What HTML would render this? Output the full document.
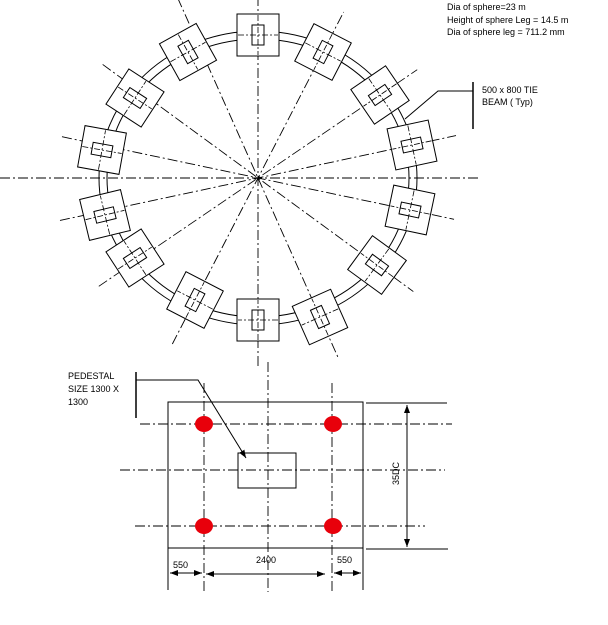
<!DOCTYPE html>
<html><head><meta charset="utf-8"><style>
html,body{margin:0;padding:0;background:#fff;}
svg{display:block;font-family:"Liberation Sans",sans-serif;}
</style></head><body>
<svg id="s" width="608" height="625" viewBox="0 0 608 625" xmlns="http://www.w3.org/2000/svg">
<defs><marker id="a" markerWidth="8" markerHeight="6" refX="8" refY="3" orient="auto" markerUnits="userSpaceOnUse"><path d="M0,0 L8,3 L0,6 z" fill="#000"/></marker></defs>
<g id="radial" stroke="#000" stroke-width="0.9" stroke-dasharray="10,3,2,3" fill="none"></g>
<ellipse cx="258" cy="178" rx="151" ry="139" fill="none" stroke="#000" stroke-width="1"/>
<ellipse cx="258" cy="178" rx="159" ry="147" fill="none" stroke="#000" stroke-width="1"/>
<g id="pads"></g>
<g font-size="9" fill="#000">
<text x="447" y="10">Dia of sphere=23 m</text>
<text x="447" y="23">Height of sphere Leg = 14.5 m</text>
<text x="447" y="35">Dia of sphere leg = 711.2 mm</text>
<text x="482" y="93">500 x 800 TIE</text>
<text x="482" y="105">BEAM ( Typ)</text>
<text x="68" y="379">PEDESTAL</text>
<text x="68" y="392">SIZE 1300 X</text>
<text x="68" y="405">1300</text>
<text x="173" y="568">550</text>
<text x="256" y="563">2400</text>
<text x="337" y="563">550</text>
<text transform="translate(399,485) rotate(-90)">35DC</text>
</g>
<g stroke="#000" fill="none" stroke-width="1">
<line x1="473" y1="82" x2="473" y2="129" stroke-width="1.5"/>
<polyline points="473,91 438,91 405,119"/>
<line x1="136" y1="372" x2="136" y2="418" stroke-width="1.5"/>
<polyline points="136,380 198,380 246,458" marker-end="url(#a)"/>
<rect x="168" y="402" width="195" height="146"/>
<rect x="238" y="453" width="58" height="35"/>
<line x1="366" y1="403" x2="447" y2="403"/>
<line x1="366" y1="549" x2="448" y2="549"/>
<line x1="407" y1="405" x2="407" y2="547" marker-end="url(#a)"/>
<line x1="407" y1="547" x2="407" y2="405" marker-end="url(#a)"/>
<line x1="168" y1="548" x2="168" y2="590"/>
<line x1="363" y1="548" x2="363" y2="590"/>
<line x1="170" y1="573" x2="202" y2="573" marker-end="url(#a)"/>
<line x1="202" y1="573" x2="170" y2="573" marker-end="url(#a)"/>
<line x1="206" y1="574" x2="325" y2="574" marker-end="url(#a)"/>
<line x1="325" y1="574" x2="206" y2="574" marker-end="url(#a)"/>
<line x1="334" y1="573" x2="361" y2="573" marker-end="url(#a)"/>
<line x1="361" y1="573" x2="334" y2="573" marker-end="url(#a)"/>
</g>
<g stroke="#000" stroke-width="0.9" stroke-dasharray="10,3,2,3" fill="none">
<line x1="204" y1="383" x2="204" y2="592"/>
<line x1="268" y1="362" x2="268" y2="592"/>
<line x1="332" y1="383" x2="332" y2="592"/>
<line x1="140" y1="424" x2="452" y2="424"/>
<line x1="120" y1="470" x2="445" y2="470"/>
<line x1="135" y1="526" x2="425" y2="526"/>
</g>
<g fill="#e8000b">
<ellipse cx="204" cy="424" rx="9" ry="8"/>
<ellipse cx="333" cy="424" rx="9" ry="8"/>
<ellipse cx="204" cy="526" rx="9" ry="8"/>
<ellipse cx="333" cy="526" rx="9" ry="8"/>
</g>
</svg>
<script>
var NS="http://www.w3.org/2000/svg",cx=258,cy=178;
var P=[[258,35],[323,52],[380,95],[412,145],[410,210],[377,265],[320,317],[258,320],[195,300],[135,258],[105,215],[102,150],[135,98],[188,52]];
var R=document.getElementById("radial"),G=document.getElementById("pads");
function el(t,a,p){var e=document.createElementNS(NS,t);for(var k in a)e.setAttribute(k,a[k]);p.appendChild(e);return e;}
for(var i=0;i<7;i++){var dx=P[i][0]-cx,dy=P[i][1]-cy,L=Math.hypot(dx,dy),ux=dx/L,uy=dy/L,E=L+45;
el("line",{x1:cx-ux*E,y1:cy-uy*E,x2:cx+ux*E,y2:cy+uy*E},R);}
el("line",{x1:0,y1:178,x2:480,y2:178},R);
P.forEach(function(p){var ang=Math.atan2(p[1]-cy,p[0]-cx)*180/Math.PI+90;
var g=el("g",{transform:"translate("+p[0]+","+p[1]+") rotate("+ang+")"},G);
el("rect",{x:-21,y:-21,width:42,height:42,fill:"#fff",stroke:"#000","stroke-width":1},g);
el("rect",{x:-6,y:-10,width:12,height:20,fill:"none",stroke:"#000","stroke-width":1},g);
el("line",{x1:0,y1:-20,x2:0,y2:20,stroke:"#000","stroke-width":0.8,"stroke-dasharray":"6,2,2,2"},g);
el("line",{x1:-20,y1:0,x2:20,y2:0,stroke:"#000","stroke-width":0.8,"stroke-dasharray":"6,2,2,2"},g);
});
</script>
</body></html>
